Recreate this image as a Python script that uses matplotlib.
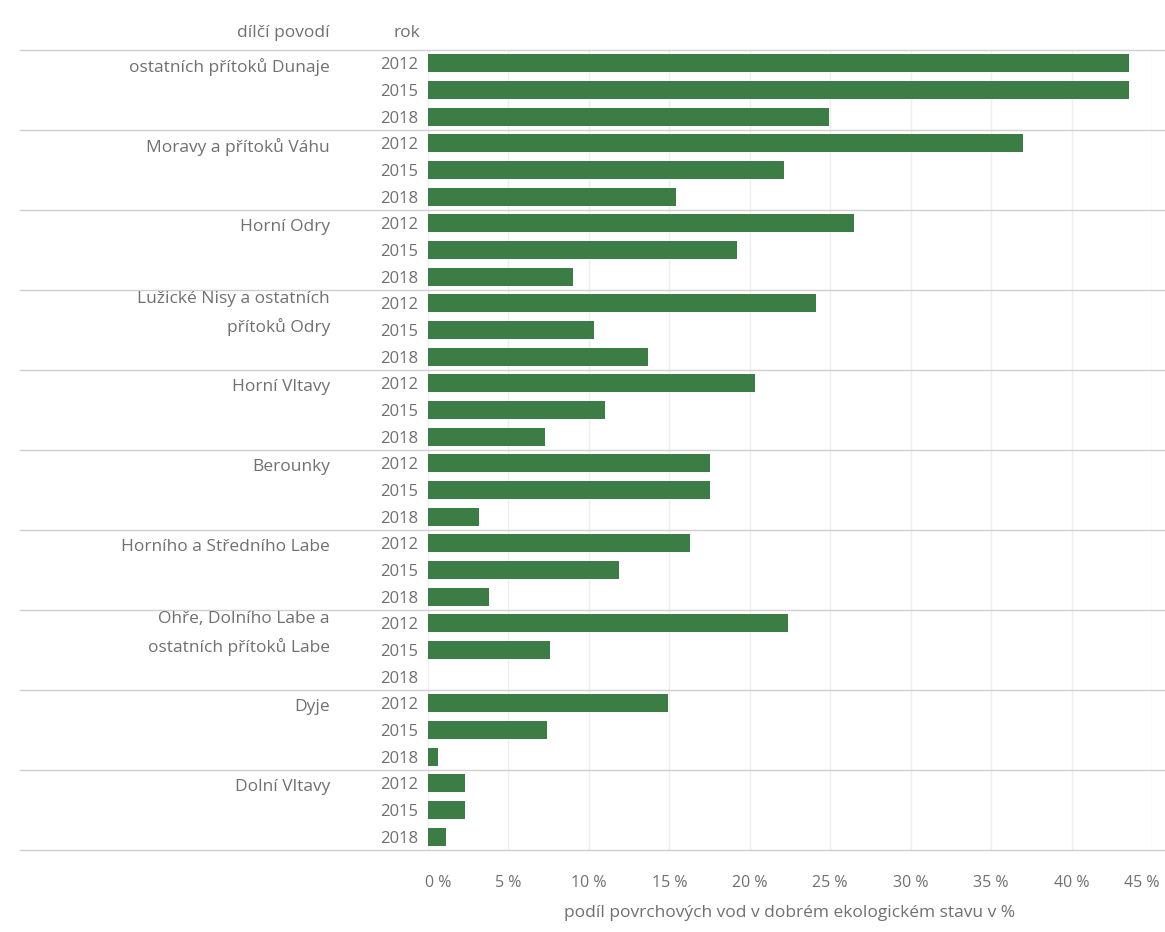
import matplotlib.pyplot as plt
from matplotlib.transforms import ScaledTranslation

# dílčí povodí, hodnoty 2012 / 2015 / 2018 (podíl v %)
groups = ["ostatních přítoků Dunaje", "Moravy a přítoků Váhu", "Horní Odry",
          "Lužické Nisy a ostatních\npřítoků Odry", "Horní Vltavy", "Berounky",
          "Horního a Středního Labe", "Ohře, Dolního Labe a\nostatních přítoků Labe",
          "Dyje", "Dolní Vltavy"]
years = ["2012", "2015", "2018"]
v2012 = [43.6, 37.0, 26.5, 24.1, 20.3, 17.5, 16.3, 22.4, 14.9, 2.3]
v2015 = [43.6, 22.1, 19.2, 10.3, 11.0, 17.5, 11.9, 7.6, 7.4, 2.3]
v2018 = [24.9, 15.4, 9.0, 13.7, 7.3, 3.2, 3.8, 0.0, 0.6, 1.1]
xticks = [0, 5, 10, 15, 20, 25, 30, 35, 40, 45]

green = "#3b7d45"
grey = "#707070"
plt.rcParams['font.family'] = ['Open Sans', 'DejaVu Sans']

fig = plt.figure(figsize=(11.65, 9.32), dpi=100)
ax = fig.add_axes([428 / 1165, 1 - 850 / 932, 724 / 1165, 800 / 932])

values = []
labels = []
for i in range(len(groups)):
    values += [v2012[i], v2015[i], v2018[i]]
    labels += years
rows = list(range(len(values)))

ax.barh(rows, values, height=0.68, color=green, zorder=3)
ax.set_ylim(len(values) - 0.5, -0.5)
ax.set_xlim(0, 45)

ax.set_yticks(rows)
ax.set_yticklabels(labels, fontsize=12, color=grey)
ax.set_xticks(xticks)
ax.set_xticklabels([f"{t} %" for t in xticks], fontsize=11.5, color=grey)
ax.tick_params(length=0)
ax.tick_params(axis="y", pad=7)
ax.tick_params(axis="x", pad=18)
for s in ax.spines.values():
    s.set_visible(False)

# krajní popisky posunout dovnitř
xl = ax.get_xticklabels()
xl[0].set_transform(xl[0].get_transform() + ScaledTranslation(0.1, 0, fig.dpi_scale_trans))
xl[-1].set_transform(xl[-1].get_transform() + ScaledTranslation(-0.1, 0, fig.dpi_scale_trans))

for t in xticks:
    ax.axvline(t, color="#efefef", lw=1, zorder=1)

# oddělovače skupin
for g in range(len(groups) + 1):
    ax.axhline(g * 3 - 0.5, xmin=-0.564, xmax=1.02, color="#d0d0d0", lw=1,
               clip_on=False, zorder=2)

lx = (330 - 428) / 724
for g, name in enumerate(groups):
    if "\n" in name:
        ax.text(lx, g * 3 - 0.45, name, transform=ax.get_yaxis_transform(),
                ha="right", va="top", fontsize=12.5, color=grey, linespacing=1.75)
    else:
        ax.text(lx, g * 3 + 0.15, name, transform=ax.get_yaxis_transform(),
                ha="right", va="center", fontsize=12.5, color=grey)

ax.text(lx, -1.15, "dílčí povodí", transform=ax.get_yaxis_transform(),
        ha="right", va="center", fontsize=12.5, color=grey, clip_on=False)
ax.text((420 - 428) / 724, -1.15, "rok", transform=ax.get_yaxis_transform(),
        ha="right", va="center", fontsize=12.5, color=grey, clip_on=False)

ax.set_xlabel("podíl povrchových vod v dobrém ekologickém stavu v %",
              fontsize=12.5, color=grey, labelpad=10)

fig.savefig("out.png", dpi=100)
